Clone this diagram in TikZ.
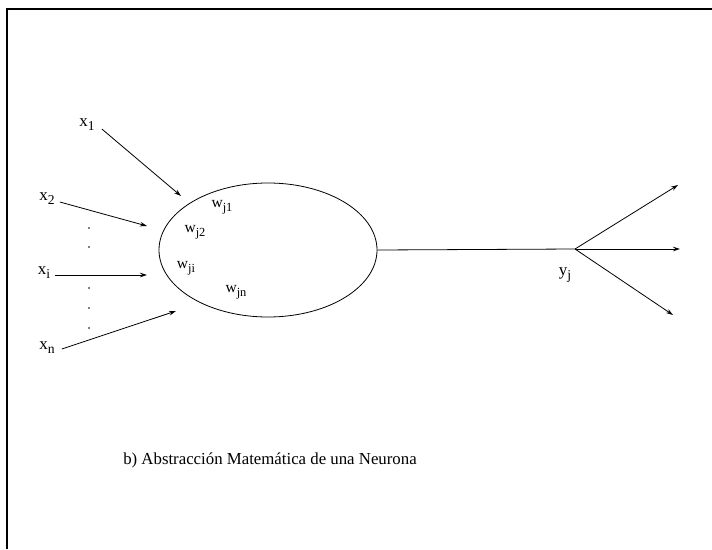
\documentclass[tikz,border=0pt]{standalone}
\usepackage{fontspec}
\usepackage{graphicx}
\setmainfont{Liberation Serif}
\usetikzlibrary{arrows.meta,shapes.geometric}
\newcommand\mysub[1]{\raisebox{-0.5ex}{\scalebox{0.8}{#1}}}
\begin{document}
\begin{tikzpicture}[x=1pt,y=-1pt,
  conn/.style={line width=0.8pt,-{Stealth[length=7pt,width=4.5pt]}},
  lbl/.style={inner sep=0pt,font=\fontsize{17}{19}\selectfont},
  wlbl/.style={inner sep=0pt,font=\fontsize{15.5}{17}\selectfont},
  dotn/.style={circle,fill=black,inner sep=0pt,minimum size=1.8pt}]
\useasboundingbox (0,0) rectangle (712,549);
\draw[line width=1.2pt] (7,549) -- (7,9) -- (712,9);
\node[draw,ellipse,line width=0.8pt,minimum width=218pt,minimum height=134pt,inner sep=0pt] (neuron) at (268,250) {};
% inputs
\node[lbl] (x1) at (87,125) {x\mysub{1}};
\node[lbl] (x2) at (47,199) {x\mysub{2}};
\node[lbl] (xi) at (44,273) {x\mysub{i}};
\node[lbl] (xn) at (47,348) {x\mysub{n}};
\coordinate (e1) at (181,196);
\coordinate (e2) at (147,226);
\coordinate (ei) at (147,275);
\coordinate (en) at (176,311);
\draw[conn] (x1.east) ++(7,4) -- (e1);
\draw[conn] (x2.east) ++(5,3) -- (e2);
\draw[conn] (xi.east |- ei) ++(5,0) -- (ei);
\draw[conn] (xn.east) ++(7,1) -- (en);
% dots
\foreach \yy [count=\k] in {228,247,288,308,328} {\node[dotn] (d\k) at (89,\yy) {};}
% weights
\node[wlbl] (w1) at (222,207) {w\mysub{j1}};
\node[wlbl] (w2) at (195,232) {w\mysub{j2}};
\node[wlbl] (wi) at (186,268) {w\mysub{ji}};
\node[wlbl] (wn) at (236,292) {w\mysub{jn}};
% output
\coordinate (br) at (575,249);
\coordinate (o1) at (678,185);
\coordinate (o2) at (680,249);
\coordinate (o3) at (673,315);
\draw[line width=0.8pt] (neuron.east) -- (br);
\draw[conn] (br) -- (o1);
\draw[conn] (br) -- (o2);
\draw[conn] (br) -- (o3);
\node[lbl] (yj) at (565,275) {y\mysub{j}};
% caption
\node[inner sep=0pt,font=\fontsize{16.8}{20}\selectfont] (cap) at (270,460) {b) Abstracción Matemática de una Neurona};
\end{tikzpicture}
\end{document}
